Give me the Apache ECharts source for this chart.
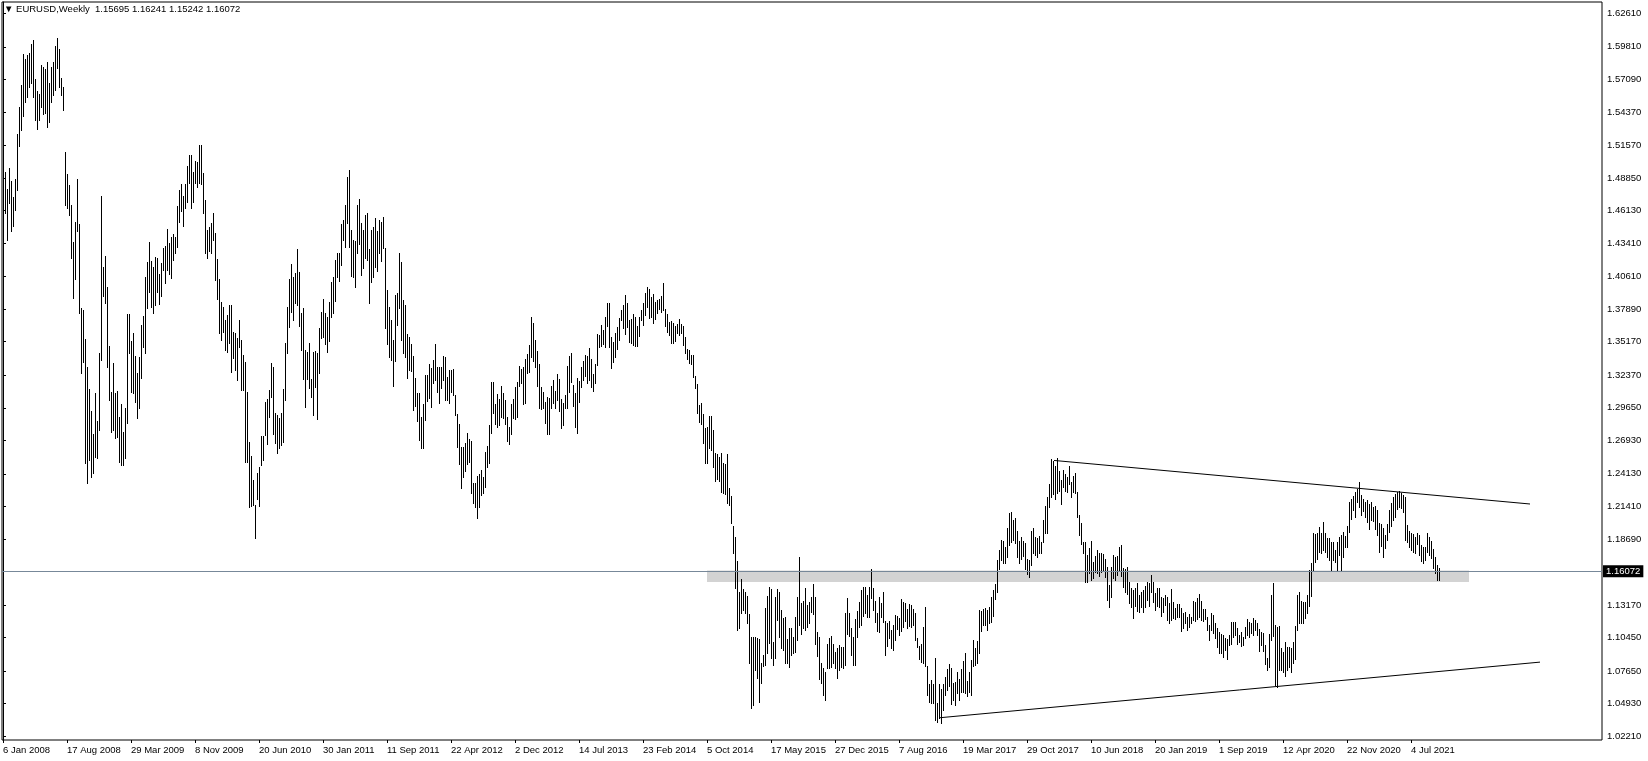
<!DOCTYPE html>
<html><head><meta charset="utf-8">
<script src="https://cdn.jsdelivr.net/npm/echarts@6/dist/echarts.min.js"></script>
<style>html,body{margin:0;padding:0;background:#fff}#c{width:1648px;height:761px}</style>
</head><body><div id="c"></div>
<script>
const symbol = 'EURUSD', timeframe = 'Weekly';
const lastBar = { open: 1.15695, high: 1.16241, low: 1.15242, close: 1.16072 };

// time-axis labels (every 32 weekly bars) and their bar index
const tickLabels = ['6 Jan 2008','17 Aug 2008','29 Mar 2009','8 Nov 2009','20 Jun 2010','30 Jan 2011','11 Sep 2011','22 Apr 2012','2 Dec 2012','14 Jul 2013','23 Feb 2014','5 Oct 2014','17 May 2015','27 Dec 2015','7 Aug 2016','19 Mar 2017','29 Oct 2017','10 Jun 2018','20 Jan 2019','1 Sep 2019','12 Apr 2020','22 Nov 2020','4 Jul 2021'];
const tickWeeks = [0,32,64,96,128,160,192,224,256,288,320,352,384,416,448,480,512,544,576,608,640,672,704];

// price-axis labels
const priceTicks = [1.62610,1.59810,1.57090,1.54370,1.51570,1.48850,1.46130,1.43410,1.40610,1.37890,1.35170,1.32370,1.29650,1.26930,1.24130,1.21410,1.18690,1.13170,1.10450,1.07650,1.04930,1.02210];

// weekly highs and lows, price x 10000, one per week from 6 Jan 2008
const highs = [
14834,14937,14790,14971,14860,14729,14876,15250,15475,15662,15921,15876,15913,15932,16005,16038,15709,15615,15587,15829,
15815,15793,15857,15676,15815,15857,15988,16052,15963,15718,15642,15102,14918,14826,14659,14350,14520,14876,14497,13796,
13782,13537,13308,13122,12941,12746,13086,12857,13425,14734,14138,14233,13977,13481,13099,13342,13086,13105,12891,12996,
12765,12960,13748,13748,13525,13592,13397,13253,13392,13657,13732,14060,14180,14353,14194,14138,14227,14213,14083,14172,
14297,14317,14462,14345,14395,14417,14389,14651,14785,14835,14735,14835,14985,15077,15077,14932,15030,15021,15161,15161,
14924,14701,14451,14478,14506,14590,14423,14205,14041,13852,13810,13699,13740,13824,13824,13601,13587,13545,13699,13531,
13406,13350,13100,12682,12562,12362,12153,12417,12473,12729,12729,13016,13036,13114,13336,13309,12924,12905,12877,12924,
13119,13504,13810,14041,14164,14061,14089,14292,14102,13760,13796,13448,13434,13504,13206,13434,13442,13420,13629,13768,
13871,13754,13726,13851,14018,14055,14200,14255,14261,14500,14534,14659,14896,14951,14450,14367,14358,14659,14709,14506,
14450,14575,14595,14289,14450,14478,14548,14445,14534,14520,14556,14297,13949,13810,13698,13531,13907,13921,14261,14186,
13865,13824,13581,13559,13498,13397,13211,13091,13086,12891,12996,13239,13239,13331,13294,13364,13498,13303,13303,13308,
13397,13392,13225,13281,13281,13286,13072,12913,12829,12634,12634,12668,12751,12701,12690,12339,12334,12395,12412,12445,
12384,12593,12646,12821,13183,13183,12996,13080,13038,13147,13086,13030,12885,12807,12996,13038,13141,13183,13314,13289,
13308,13370,13414,13489,13721,13670,13531,13439,13331,13141,13099,13010,13052,13044,13147,13197,13108,13247,13203,13035,
13008,13072,13314,13397,13425,13155,13086,13216,13191,13308,13358,13406,13397,13461,13372,13247,13328,13581,13573,13656,
13615,13726,13838,13838,13559,13517,13587,13637,13712,13782,13824,13907,13838,13698,13704,13748,13720,13648,13726,13782,
13838,13921,13971,13954,13893,13915,13851,13865,13871,13899,14005,13787,13748,13684,13693,13676,13648,13665,13704,13665,
13648,13559,13453,13448,13406,13406,13230,13164,12988,13008,12913,12793,12801,12896,12896,12779,12590,12579,12551,12590,
12506,12495,12579,12292,12228,11977,11888,11688,11429,11532,11448,11429,11392,11242,11052,11047,11052,11039,11030,10830,
10899,11289,11392,11465,11448,11011,11387,11448,11429,11275,11206,11214,11030,11122,11122,11052,11220,11387,11721,11336,
11353,11456,11317,11345,11381,11492,11387,11094,11052,10835,10788,10760,10988,11038,11058,10991,10927,10955,10983,10969,
10963,11253,11378,11247,11122,11052,11197,11270,11345,11442,11465,11465,11400,11465,11615,11456,11353,11247,11381,11331,
11428,11183,11169,11183,11108,11150,11233,11225,11206,11364,11345,11331,11281,11325,11317,11281,11247,11038,10974,10991,
11136,11297,10807,10657,10690,10657,10871,10501,10657,10612,10657,10718,10779,10824,10788,10662,10676,10760,10696,10780,
10852,10913,10685,10760,10858,11025,10955,11019,11275,11270,11281,11289,11275,11303,11387,11442,11493,11693,11777,11860,
11852,11799,11958,12083,12097,12027,12041,11935,11855,11888,11855,11838,11699,11693,11938,11958,11888,11874,11894,11846,
12027,12144,12217,12328,12537,12518,12480,12545,12440,12365,12446,12413,12388,12476,12345,12396,12417,12264,12069,12005,
11846,11846,11735,11790,11852,11679,11727,11777,11749,11754,11743,11699,11637,11484,11637,11735,11715,11727,11799,11819,
11624,11616,11633,11513,11457,11443,11457,11499,11401,11429,11443,11477,11513,11499,11568,11513,11415,11457,11457,11382,
11374,11401,11382,11332,11449,11346,11290,11326,11326,11290,11248,11262,11220,11243,11220,11354,11346,11374,11410,11354,
11282,11282,11220,11151,11248,11234,11165,11123,11095,11076,11067,11039,11031,11067,11179,11179,11179,11123,11067,11095,
11053,11131,11198,11179,11170,11206,11193,11165,11115,11095,11087,10984,10872,11076,11401,11499,11151,11131,11142,10955,
10927,11011,10969,10963,10955,11011,11142,11401,11429,11353,11345,11345,11401,11610,11665,11916,11910,11916,11972,11921,
12013,11921,11874,11874,11846,11846,11777,11846,11888,11902,11930,11894,11977,12180,12200,12228,12264,12283,12348,12236,
12200,12180,12194,12161,12180,12139,12144,12111,11999,11994,11958,11902,11994,12111,12172,12222,12244,12264,12272,12250,
12236,12222,11985,11938,11916,11910,11882,11921,11902,11818,11804,11799,11916,11888,11855,11782,11715,11651,11624
];
const lows = [
14645,14595,14367,14673,14442,14484,14617,14785,15152,15286,15403,15523,15565,15642,15681,15565,15369,15294,15369,15475,
15420,15425,15314,15356,15523,15578,15620,15801,15642,15578,15453,14659,14632,14576,14213,13880,14040,14442,13754,13258,
13350,12500,12333,12528,12389,12417,12556,12542,12779,13364,13899,13843,13308,13030,12765,12779,12710,12724,12515,12487,
12487,12542,12835,13420,13099,13086,13016,12877,12960,13211,13470,13425,13796,13935,13810,13754,13824,13935,13832,13902,
14116,14011,14116,14083,14052,14200,14261,14311,14520,14612,14487,14632,14687,14840,14632,14687,14840,14807,14840,14835,
14595,14261,14219,14278,14256,14367,14033,13871,13587,13531,13601,13448,13434,13504,13267,13378,13281,13197,13476,13114,
13114,12515,12515,12139,12144,12153,11874,12200,12144,12487,12529,12738,12663,12891,13058,12746,12668,12590,12626,12654,
12682,13030,13426,13643,13768,13699,13838,13824,13648,13448,13203,12974,13203,13128,13058,12905,13142,12869,13253,13545,
13559,13498,13434,13523,13720,13754,13860,14060,14027,14158,14367,14305,14506,14305,14066,14055,13977,14255,14330,14074,
14130,14213,14200,13843,14018,14060,14144,14110,14255,14194,14297,13634,13498,13392,13364,13147,13356,13656,13796,13531,
13425,13392,13211,13281,13275,12946,12980,12857,12696,12626,12626,12863,13024,13044,12974,13175,13197,13099,13008,13133,
13197,13030,13030,13008,13099,13072,12905,12640,12495,12292,12389,12437,12492,12515,12256,12166,12139,12041,12133,12236,
12256,12300,12467,12501,12757,12919,12829,12807,12821,12891,12877,12829,12690,12662,12743,12877,12871,12891,13147,13169,
12996,13008,13258,13267,13392,13358,13308,13147,12966,12955,12966,12835,12746,12746,12966,13002,12960,13030,12941,12799,
12821,12960,12960,13100,13183,12980,12807,12757,13016,13141,13197,13230,13169,13197,13136,13108,13169,13322,13475,13481,
13498,13475,13648,13470,13300,13350,13386,13453,13531,13698,13629,13581,13637,13517,13509,13489,13481,13481,13565,13698,
13656,13740,13804,13712,13726,13676,13704,13754,13787,13768,13782,13648,13601,13573,13509,13509,13526,13587,13573,13587,
13489,13425,13370,13342,13331,13225,13127,12919,12849,12829,12673,12501,12506,12626,12612,12473,12356,12367,12356,12264,
12256,12245,12167,12153,12000,11754,11456,11108,11122,11247,11275,11247,11164,10835,10454,10482,10774,10704,10510,10663,
10808,10816,10913,11002,10872,10816,10872,11192,11052,10955,10941,10835,10835,10802,10899,10913,10927,11025,11150,11075,
11122,11108,11130,11169,11261,11242,10991,10891,10696,10668,10565,10523,10788,10788,10802,10830,10793,10704,10774,10796,
10788,10816,11075,11058,10899,10816,10816,11052,11136,11150,11225,11253,11214,11220,11373,11275,11178,11103,11094,11214,
11178,10899,10974,11038,10955,10941,11025,11114,11066,11103,11130,11186,11122,11141,11130,11150,11025,10963,10863,10843,
10835,10807,10565,10509,10495,10501,10356,10342,10370,10334,10440,10565,10607,10640,10490,10523,10481,10579,10523,10593,
10593,10585,10557,10593,10565,10807,10816,10835,10919,11103,11150,11150,11108,11169,11178,11225,11364,11428,11615,11693,
11665,11665,11721,11818,11846,11860,11832,11715,11665,11699,11727,11615,11576,11554,11651,11749,11735,11715,11754,11754,
11846,11916,11916,12139,12222,12244,12200,12250,12272,12161,12300,12272,12260,12330,12222,12264,12250,12055,11902,11827,
11749,11512,11512,11582,11526,11540,11596,11582,11559,11596,11610,11554,11359,11303,11387,11540,11526,11568,11610,11560,
11465,11429,11410,11332,11298,11206,11309,11270,11262,11298,11262,11298,11360,11309,11429,11346,11276,11309,11304,11226,
11262,11318,11193,11165,11193,11206,11198,11220,11220,11103,11123,11165,11109,11137,11165,11193,11187,11198,11220,11193,
11187,11198,11109,11025,11109,11081,11039,10964,10920,10920,10886,10942,10864,10984,10992,11048,11067,10992,11011,10975,
10984,11039,11067,11048,11087,11067,11109,11067,10936,10984,10936,10825,10775,10797,11025,11060,10649,10636,10775,10774,
10760,10724,10774,10802,10760,10835,10863,11108,11164,11164,11170,11206,11247,11309,11392,11610,11679,11699,11763,11749,
11777,11763,11715,11693,11610,11693,11679,11610,11735,11604,11721,11799,11799,11930,12033,12111,12055,12180,12133,12069,
12105,12055,12013,11949,12027,12022,11949,11902,11763,11810,11715,11791,11860,11930,11977,12027,12055,12116,12139,12125,
12097,11860,11846,11804,11777,11763,11754,11827,11735,11688,11671,11693,11763,11735,11707,11623,11582,11526,11524
];

// drawn objects: [bar index, price]
const upperTrend = [[525.5, 1.2525], [763.5, 1.2161]];
const lowerTrend = [[468.2, 1.0375], [768.5, 1.0840]];
const zone = { fromBar: 352, toBar: 733, top: 1.1606, bottom: 1.1509 };

const FONT = 'Liberation Sans, Arial, sans-serif';
const bars = highs.map((h, i) => [i, lows[i] / 10000, h / 10000]);
const labelOf = {};
tickWeeks.forEach((w, k) => { labelOf[w] = tickLabels[k]; });

const chart = echarts.init(document.getElementById('c'), null, { renderer: 'canvas' });
chart.setOption({
  animation: false,
  backgroundColor: '#fff',
  title: {
    text: '\u25BC ' + symbol + ',' + timeframe + '  ' + [lastBar.open, lastBar.high, lastBar.low, lastBar.close].map(v => v.toFixed(5)).join(' '),
    left: 4, top: 4, padding: 0,
    textStyle: { fontSize: 9.5, fontWeight: 'normal', color: '#000', fontFamily: FONT }
  },
  grid: { left: 2, top: 2, right: 46, bottom: 21, show: true, borderColor: '#000', borderWidth: 1, backgroundColor: 'transparent' },
  xAxis: {
    type: 'value', min: -0.5, max: 799.5,
    axisLine: { show: false },
    axisTick: { show: true, customValues: tickWeeks, length: 3, lineStyle: { color: '#000' } },
    axisLabel: { customValues: tickWeeks, formatter: v => labelOf[v] || '', align: 'left', margin: 5, fontSize: 9.5, color: '#000', fontFamily: FONT },
    splitLine: { show: false }
  },
  yAxis: {
    type: 'value', position: 'right', min: 1.01893, max: 1.63554,
    axisLine: { show: true, lineStyle: { color: '#000' } },
    axisTick: { show: true, customValues: priceTicks, length: 3, lineStyle: { color: '#000' } },
    axisLabel: { customValues: priceTicks, formatter: v => v.toFixed(5), margin: 5, fontSize: 9.5, color: '#000', fontFamily: FONT },
    splitLine: { show: false }
  },
  series: [
    {
      type: 'line', name: 'upper', data: upperTrend, symbol: 'none', z: 2,
      lineStyle: { color: '#000', width: 1 },
      markArea: {
        silent: true, itemStyle: { color: '#d3d3d3' },
        data: [[{ xAxis: zone.fromBar, yAxis: zone.top }, { xAxis: zone.toBar, yAxis: zone.bottom }]]
      },
      markLine: {
        silent: true, symbol: ['none', 'none'],
        lineStyle: { color: '#778899', width: 1, type: 'solid' },
        label: { show: true, position: 'end', distance: 1, formatter: lastBar.close.toFixed(5), color: '#fff', backgroundColor: '#000', padding: [1, 3, 1, 3], fontSize: 9.5, fontFamily: FONT },
        emphasis: { disabled: true },
        data: [{ yAxis: lastBar.close }]
      }
    },
    { type: 'line', name: 'lower', data: lowerTrend, symbol: 'none', z: 2, lineStyle: { color: '#000', width: 1 } },
    {
      type: 'custom', name: 'EURUSD', data: bars, z: 3,
      encode: { x: 0, y: [1, 2] },
      renderItem: (params, api) => {
        const i = api.value(0);
        const top = api.coord([i, api.value(2)]);
        const bot = api.coord([i, api.value(1)]);
        const x = Math.round(top[0]) + 0.5;
        return { type: 'line', shape: { x1: x, y1: Math.round(top[1]), x2: x, y2: Math.round(bot[1]) + 1 }, style: { stroke: '#000', lineWidth: 1 } };
      }
    }
  ]
});
</script>
</body></html>
